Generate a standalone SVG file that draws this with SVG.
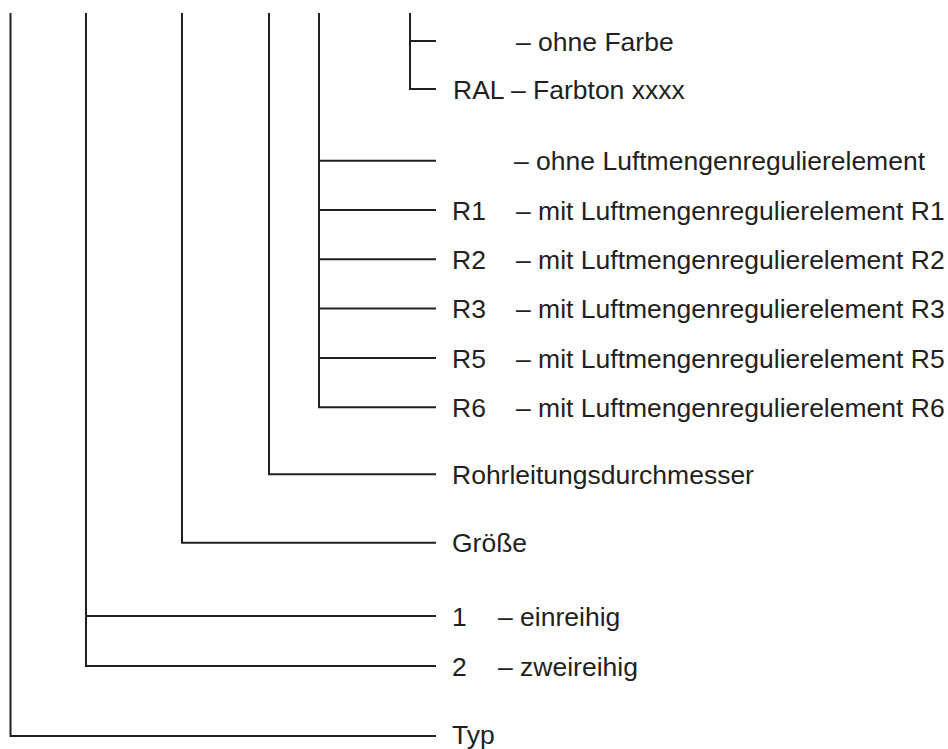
<svg xmlns="http://www.w3.org/2000/svg" width="948" height="749" viewBox="0 0 948 749">
<style>
.c{fill:none;stroke:#231f20;stroke-width:2;stroke-linecap:butt;stroke-linejoin:miter}
text{font-family:"Liberation Sans",Arial,sans-serif;font-size:26.5px;fill:#231f20}
</style>
<rect width="948" height="749" fill="#fff"/>
<g id="connectors">
<path class="c" d="M10.5,13 V736 H436"/>
<path class="c" d="M86,13 V666 H436 M86,616 H436"/>
<path class="c" d="M182,13 V542.7 H436"/>
<path class="c" d="M269,13 V474.3 H436"/>
<path class="c" d="M319,13 V407.3 H436 M319,160.7 H436 M319,210 H436 M319,259.3 H436 M319,308.6 H436 M319,358 H436"/>
<path class="c" d="M410,13 V89 H436 M410,41 H436"/>
</g>
<g id="farbe-ohne"><text x="516" y="50.5">– ohne Farbe</text></g>
<g id="farbe-ral"><text x="453" y="98.5">RAL – Farbton xxxx</text></g>
<g id="luft-ohne"><text x="514" y="170.2">– ohne Luftmengenregulierelement</text></g>
<g id="luft-r1"><text x="452" y="219.5">R1</text><text x="516" y="219.5">– mit Luftmengenregulierelement R1</text></g>
<g id="luft-r2"><text x="452" y="268.8">R2</text><text x="516" y="268.8">– mit Luftmengenregulierelement R2</text></g>
<g id="luft-r3"><text x="452" y="318.1">R3</text><text x="516" y="318.1">– mit Luftmengenregulierelement R3</text></g>
<g id="luft-r5"><text x="452" y="367.5">R5</text><text x="516" y="367.5">– mit Luftmengenregulierelement R5</text></g>
<g id="luft-r6"><text x="452" y="416.8">R6</text><text x="516" y="416.8">– mit Luftmengenregulierelement R6</text></g>
<g id="rohr"><text x="452" y="483.8">Rohrleitungsdurchmesser</text></g>
<g id="groesse"><text x="452" y="552.2">Größe</text></g>
<g id="typ-1"><text x="452" y="625.5">1</text><text x="498" y="625.5">– einreihig</text></g>
<g id="typ-2"><text x="452" y="675.5">2</text><text x="498" y="675.5">– zweireihig</text></g>
<g id="typ"><text x="452" y="744">Typ</text></g>
</svg>
